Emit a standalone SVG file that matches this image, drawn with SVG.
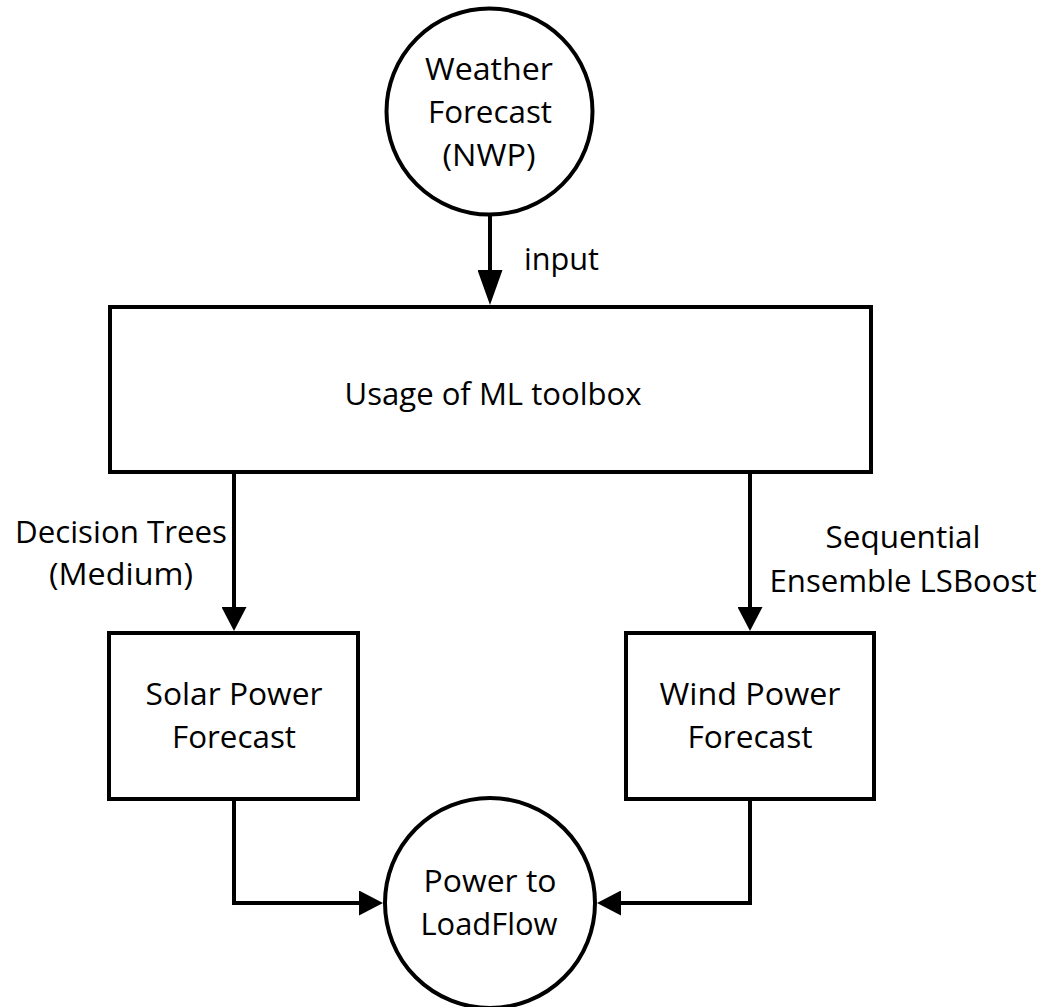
<svg xmlns="http://www.w3.org/2000/svg" width="1042" height="1007" viewBox="0 0 1042 1007">
  <style>
    .shape { fill: #ffffff; stroke: #000000; stroke-width: 4; }
    .conn { fill: none; stroke: #000000; stroke-width: 4; stroke-linejoin: miter; }
    .lbl { font-family: "Open Sans", "Liberation Sans", sans-serif; font-size: 31px; fill: #000000; }
    .mid { text-anchor: middle; }
  </style>
  <defs>
    <marker id="arrowBig" markerUnits="userSpaceOnUse" viewBox="0 0 35 25" markerWidth="35" markerHeight="25" refX="1" refY="12.5" orient="auto">
      <path d="M0,0 L35,12.5 L0,25 Z" fill="#000000"/>
    </marker>
    <marker id="arrow" markerUnits="userSpaceOnUse" viewBox="0 0 24 25" markerWidth="24" markerHeight="25" refX="1" refY="12.5" orient="auto">
      <path d="M0,0 L24,12.5 L0,25 Z" fill="#000000"/>
    </marker>
  </defs>
  <rect x="0" y="0" width="1042" height="1007" fill="#ffffff"/>

  <g id="connectors">
    <path class="conn" d="M490,215 V271" marker-end="url(#arrowBig)"/>
    <path class="conn" d="M234,474 V608" marker-end="url(#arrow)"/>
    <path class="conn" d="M750,474 V608" marker-end="url(#arrow)"/>
    <path class="conn" d="M234,801 V903 H360" marker-end="url(#arrow)"/>
    <path class="conn" d="M750,801 V903 H620" marker-end="url(#arrow)"/>
  </g>

  <g id="edge-labels">
    <text class="lbl" x="524" y="270" textLength="75" lengthAdjust="spacingAndGlyphs">input</text>
    <text class="lbl mid" x="121" y="543" textLength="212" lengthAdjust="spacingAndGlyphs">Decision Trees</text>
    <text class="lbl mid" x="121" y="585" textLength="144" lengthAdjust="spacingAndGlyphs">(Medium)</text>
    <text class="lbl mid" x="903" y="548" textLength="155" lengthAdjust="spacingAndGlyphs">Sequential</text>
    <text class="lbl mid" x="903" y="592" textLength="267" lengthAdjust="spacingAndGlyphs">Ensemble LSBoost</text>
  </g>

  <g id="weather-forecast">
    <circle class="shape" cx="489.5" cy="111.5" r="103"/>
    <text class="lbl mid" x="489" y="80" textLength="128" lengthAdjust="spacingAndGlyphs">Weather</text>
    <text class="lbl mid" x="490" y="123" textLength="124" lengthAdjust="spacingAndGlyphs">Forecast</text>
    <text class="lbl mid" x="489" y="166" textLength="93" lengthAdjust="spacingAndGlyphs">(NWP)</text>
  </g>

  <g id="ml-toolbox">
    <rect class="shape" x="110" y="307" width="761" height="165"/>
    <text class="lbl mid" x="493" y="405" textLength="297" lengthAdjust="spacingAndGlyphs">Usage of ML toolbox</text>
  </g>

  <g id="solar-forecast">
    <rect class="shape" x="109" y="633" width="249" height="166"/>
    <text class="lbl mid" x="234" y="705" textLength="177" lengthAdjust="spacingAndGlyphs">Solar Power</text>
    <text class="lbl mid" x="234" y="748" textLength="124" lengthAdjust="spacingAndGlyphs">Forecast</text>
  </g>

  <g id="wind-forecast">
    <rect class="shape" x="626" y="633" width="248" height="166"/>
    <text class="lbl mid" x="750" y="705" textLength="181" lengthAdjust="spacingAndGlyphs">Wind Power</text>
    <text class="lbl mid" x="750" y="748" textLength="125" lengthAdjust="spacingAndGlyphs">Forecast</text>
  </g>

  <g id="power-to-loadflow">
    <circle class="shape" cx="490" cy="903" r="105"/>
    <text class="lbl mid" x="490" y="892" textLength="133" lengthAdjust="spacingAndGlyphs">Power to</text>
    <text class="lbl mid" x="489" y="935" textLength="137" lengthAdjust="spacingAndGlyphs">LoadFlow</text>
  </g>
</svg>
